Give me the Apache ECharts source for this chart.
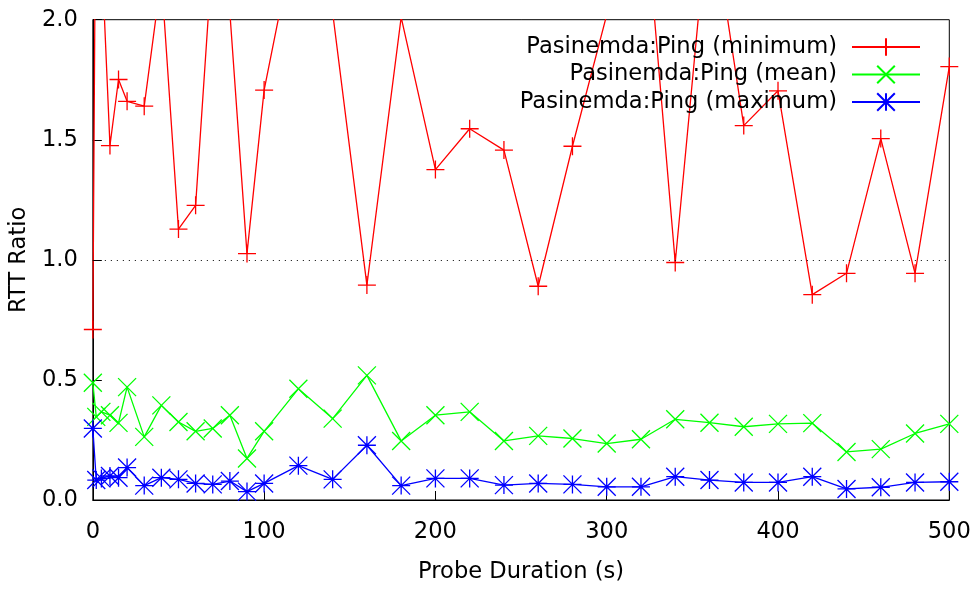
<!DOCTYPE html>
<html>
<head>
<meta charset="utf-8">
<script src="https://cdn.jsdelivr.net/npm/echarts@6/dist/echarts.min.js"></script>
<style>
html,body{margin:0;padding:0;background:#fff;}
#chart{width:979px;height:589px;}
</style>
</head>
<body>
<div id="chart"></div>
<script>
const probeDurations = [0, 2, 5, 10, 15, 20, 30, 40, 50, 60, 70, 80, 90, 100, 120, 140, 160, 180, 200, 220, 240, 260, 280, 300, 320, 340, 360, 380, 400, 420, 440, 460, 480, 500];
const minimumRatio = [0.71, 2.95, 2.3, 1.476, 1.751, 1.66, 1.64, 2.18, 1.128, 1.227, 2.29, 2.03, 1.026, 1.707, 2.42, 2.03, 0.895, 2.01, 1.376, 1.546, 1.457, 0.89, 1.473, 2.02, 2.67, 0.989, 2.5, 1.559, 1.704, 0.855, 0.944, 1.505, 0.944, 1.805];
const meanRatio = [0.488, 0.346, 0.367, 0.353, 0.321, 0.47, 0.263, 0.394, 0.325, 0.286, 0.298, 0.353, 0.173, 0.286, 0.463, 0.339, 0.519, 0.246, 0.353, 0.367, 0.246, 0.267, 0.256, 0.235, 0.253, 0.336, 0.322, 0.305, 0.317, 0.32, 0.2, 0.212, 0.277, 0.317];
const maximumRatio = [0.298, 0.083, 0.09, 0.1, 0.093, 0.135, 0.06, 0.093, 0.086, 0.069, 0.065, 0.079, 0.035, 0.069, 0.143, 0.086, 0.228, 0.06, 0.09, 0.09, 0.062, 0.069, 0.065, 0.055, 0.055, 0.097, 0.083, 0.073, 0.073, 0.097, 0.046, 0.053, 0.073, 0.076];
const seriesNames = ['Pasinemda:Ping (minimum)', 'Pasinemda:Ping (mean)', 'Pasinemda:Ping (maximum)'];
const referenceLevel = 1.0;
const xTicks = {min: 0, max: 500, interval: 100};
const yTicks = {min: 0, max: 2, interval: 0.5};

const FONT = 'DejaVu Sans';
const FS = 22.6;
const PLUS = 'path://M0,9L18,9M9,0L9,18';
const CROSS = 'path://M0,0L18,18M18,0L0,18';
const STAR = 'path://M0,9L18,9M9,0L9,18M0,0L18,18M18,0L0,18';

function pairs(ys) { return probeDurations.map((x, i) => [x, ys[i]]); }

function mkSeries(name, ys, color, symbol, extra) {
  return Object.assign({
    name: name,
    type: 'line',
    data: pairs(ys),
    symbol: symbol,
    symbolSize: 18,
    showAllSymbol: true,
    clip: true,
    lineStyle: {color: color, width: 1.3},
    itemStyle: {color: color, borderColor: color, borderWidth: 1.3},
    emphasis: {disabled: true},
    silent: true
  }, extra || {});
}

const chart = echarts.init(document.getElementById('chart'), null, {renderer: 'canvas'});
chart.setOption({
  animation: false,
  backgroundColor: '#fff',
  textStyle: {fontFamily: FONT},
  grid: {left: 90.5, right: 29.7, top: 19.7, bottom: 86.5, show: true, borderColor: '#000', borderWidth: 1, backgroundColor: 'transparent'},
  legend: {
    orient: 'vertical',
    align: 'right',
    right: 58,
    top: 35.5,
    padding: 0,
    itemGap: 4.5,
    itemWidth: 68,
    itemHeight: 22,
    data: seriesNames,
    selectedMode: false,
    textStyle: {fontFamily: FONT, fontSize: FS, color: '#000', padding: [0, 10, 0, 0]}
  },
  xAxis: {
    type: 'value',
    min: xTicks.min, max: xTicks.max, interval: xTicks.interval,
    name: 'Probe Duration (s)',
    nameLocation: 'middle',
    nameGap: 61,
    nameTextStyle: {fontFamily: FONT, fontSize: FS, color: '#000'},
    axisLine: {show: true, lineStyle: {color: '#000', width: 1}},
    axisTick: {show: true, inside: true, length: 9, lineStyle: {color: '#000'}},
    axisLabel: {fontFamily: FONT, fontSize: FS, color: '#000', margin: 21},
    splitLine: {show: false}
  },
  yAxis: {
    type: 'value',
    min: yTicks.min, max: yTicks.max, interval: yTicks.interval,
    name: 'RTT Ratio',
    nameLocation: 'middle',
    nameGap: 55,
    nameRotate: 90,
    nameTextStyle: {fontFamily: FONT, fontSize: FS, color: '#000'},
    axisLine: {show: true, lineStyle: {color: '#000', width: 1}},
    axisTick: {show: true, inside: true, length: 9, lineStyle: {color: '#000'}},
    axisLabel: {fontFamily: FONT, fontSize: FS, color: '#000', margin: 15, formatter: v => v.toFixed(1)},
    splitLine: {show: false}
  },
  series: [
    mkSeries(seriesNames[0], minimumRatio, '#ff0000', PLUS, {
      z: 3,
      markLine: {
        silent: true,
        symbol: 'none',
        animation: false,
        label: {show: false},
        lineStyle: {color: '#000', type: [1, 5], width: 1},
        emphasis: {disabled: true},
        data: [{yAxis: referenceLevel}]
      }
    }),
    mkSeries(seriesNames[1], meanRatio, '#00ff00', CROSS, {z: 4}),
    mkSeries(seriesNames[2], maximumRatio, '#0000ff', STAR, {z: 5})
  ]
});
</script>
</body>
</html>
